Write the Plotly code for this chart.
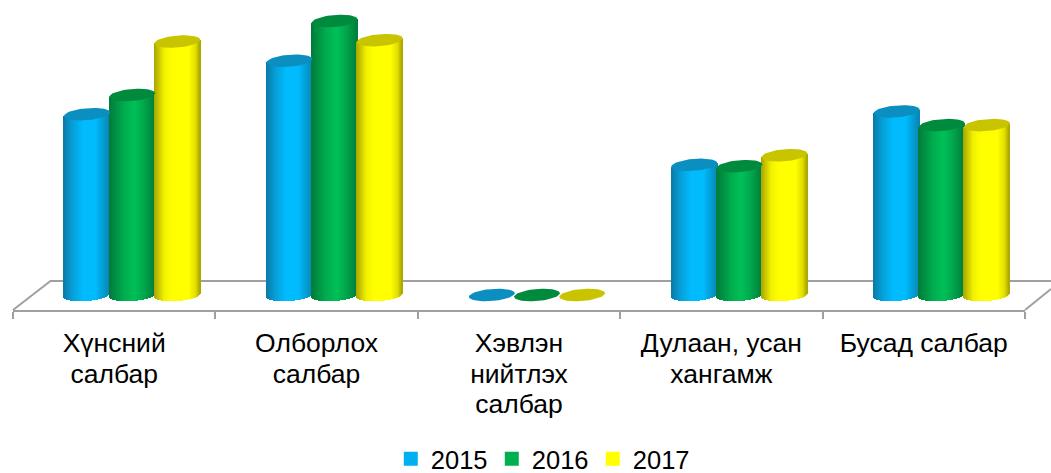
import math
import plotly.graph_objects as go

categories = ["Хүнсний<br>салбар", "Олборлох<br>салбар", "Хэвлэн<br>нийтлэх<br>салбар",
              "Дулаан, усан<br>хангамж", "Бусад салбар"]
years = ["2015", "2016", "2017"]
values_2015 = [66.0, 85.5, 0.0, 47.5, 67.0]
values_2016 = [73.0, 100.0, 0.0, 47.0, 62.0]
values_2017 = [92.5, 93.0, 0.0, 51.0, 62.0]
series_values = [values_2015, values_2016, values_2017]

legend_colors = ["#00B0F0", "#00B050", "#FFFF00"]
cap_colors = ["#0A8FC0", "#008A3E", "#C8C400"]
shades = [
    [(-1, "#0B79A6"), (-0.55, "#05A2DA"), (-0.1, "#00BCFF"), (0.4, "#00BCFF"), (0.78, "#049ACF"), (1, "#0A86B5")],
    [(-1, "#007A3A"), (-0.35, "#00AC4E"), (0.1, "#00C058"), (0.5, "#00A84C"), (1, "#007E3C")],
    [(-1, "#A8A400"), (-0.55, "#F2F200"), (-0.2, "#FFFF00"), (0.5, "#FFFF00"), (0.8, "#E2DF00"), (1, "#A8A500")],
]

W, H = 1051, 473
M_L, M_R, M_T, M_B = 12.5, 26, 0, 163
PX_X = (W - M_L - M_R) / 5
PX_Y = 2.74
FLOOR_PX = 15
y_min = -FLOOR_PX / PX_Y
y_max = (H - M_B - FLOOR_PX) / PX_Y
DEPTH = 18 / PX_X
STEP = 45.2 / PX_X
RX, RY, TILT = 23.0, 6.0, 1.8


def hex_rgb(c):
    return tuple(int(c[i:i + 2], 16) for i in (1, 3, 5))


def shade(stops, u):
    for (u0, c0), (u1, c1) in zip(stops, stops[1:]):
        if u <= u1:
            t = (u - u0) / (u1 - u0)
            a, b = hex_rgb(c0), hex_rgb(c1)
            return "rgb(%d,%d,%d)" % tuple(round(a[i] + (b[i] - a[i]) * t) for i in range(3))
    return stops[-1][1]


fig = go.Figure()
for s, vals in enumerate(series_values):
    xs, tops, bases, colors = [], [], [], []
    for i, v in enumerate(vals):
        if v <= 0:
            continue
        cx = i + DEPTH + (s - 1) * STEP
        n = int(2 * RX)
        for k in range(n):
            u = -1 + (2 * k + 1) / n
            side = TILT * u / PX_Y
            base = side - RY * math.sqrt(1 - u * u) / PX_Y
            xs.append(cx + u * RX / PX_X)
            bases.append(base)
            tops.append(v + side - base)
            colors.append(shade(shades[s], u))
    fig.add_trace(go.Bar(x=xs, y=tops, base=bases, width=1.25 / PX_X,
                         marker=dict(color=colors, line=dict(width=0)),
                         showlegend=False, hoverinfo="skip"))

for s, vals in enumerate(series_values):
    ex, ey = [], []
    for i, v in enumerate(vals):
        cx = i + DEPTH + (s - 1) * STEP
        for d in range(0, 361, 6):
            t = math.radians(d)
            ex.append(cx + math.cos(t) * RX / PX_X)
            ey.append(v + (RY * math.sin(t) + TILT * math.cos(t)) / PX_Y)
        ex.append(None)
        ey.append(None)
    fig.add_trace(go.Scatter(x=ex, y=ey, mode="lines", fill="toself",
                             fillcolor=cap_colors[s], line=dict(width=0),
                             showlegend=False, hoverinfo="skip"))

for s, year in enumerate(years):
    fig.add_trace(go.Scatter(x=[None], y=[None], mode="markers", name=year,
                             marker=dict(symbol="square", size=14, color=legend_colors[s])))

AXIS = "#A0A0A0"
pw = W - M_L - M_R
ph = H - M_T - M_B


def px(xp):
    return (xp - M_L) / pw


def py(yp):
    return 1 - (yp - M_T) / ph


floor_path = "M %f,%f L %f,%f L %f,%f" % (px(12.5), py(310), px(50), py(281), px(1051), py(281))
side_path = "M %f,%f L %f,%f" % (px(1025), py(310), px(1051), py(289))
shapes = [dict(type="path", xref="paper", yref="paper", path=p, layer="below",
               line=dict(color=AXIS, width=2)) for p in (floor_path, side_path)]

# glyphs at 26.5px on a 23.5px line box, which gives the reference's tighter line spacing
tick_labels = ["<br>".join('<span style="font-size:26.5px">%s</span>' % line for line in c.split("<br>"))
               for c in categories]

fig.update_layout(
    width=W, height=H, autosize=False,
    margin=dict(l=M_L, r=M_R, t=M_T, b=M_B, pad=0, autoexpand=False),
    paper_bgcolor="white", plot_bgcolor="rgba(0,0,0,0)",
    barmode="overlay", bargap=0,
    shapes=shapes,
    font=dict(family="Liberation Sans, Arial, sans-serif", color="#000000"),
    xaxis=dict(range=[-0.5, 4.5], tickmode="array", tickvals=list(range(5)), ticktext=tick_labels,
               ticks="", showgrid=False, zeroline=False, showline=True, linecolor=AXIS, linewidth=2,
               ticklabelstandoff=12, tickfont=dict(size=23.5), automargin=False,
               minor=dict(tickmode="array", tickvals=[k - 0.5 for k in range(6)], ticks="outside",
                          ticklen=7, tickwidth=2, tickcolor=AXIS, showgrid=False)),
    yaxis=dict(range=[y_min, y_max], visible=False, showgrid=False, zeroline=False),
    legend=dict(orientation="h", x=0.523, xanchor="center", y=-0.405, yanchor="top",
                font=dict(size=25.5), bgcolor="rgba(0,0,0,0)", entrywidth=56, entrywidthmode="pixels"),
    hovermode=False,
)
fig.write_html("out.html", post_script="document.body.style.margin='0';",
               config={"displayModeBar": False})
